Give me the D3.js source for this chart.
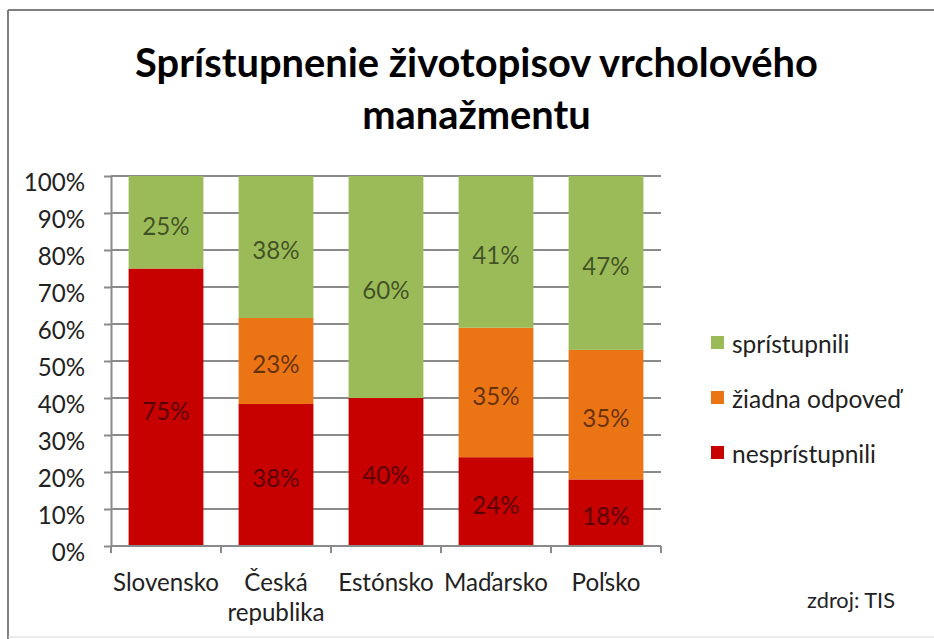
<!DOCTYPE html>
<html><head><meta charset="utf-8">
<script src="https://cdn.jsdelivr.net/npm/d3@7"></script>
<style>body{margin:0;background:#fff}svg{display:block}</style>
</head><body>
<svg id="chart" width="934" height="639"></svg>
<script>
// ---- data ----
const categories = ["Slovensko", "Česká republika", "Estónsko", "Maďarsko", "Poľsko"];
const categoryLabelLines = [["Slovensko"], ["Česká", "republika"], ["Estónsko"], ["Maďarsko"], ["Poľsko"]];
const seriesNames = ["nesprístupnili", "žiadna odpoveď", "sprístupnili"];
const nespristupnili = [75, 38, 40, 24, 18];
const ziadnaOdpoved = [0, 23, 0, 35, 35];
const spristupnili = [25, 38, 60, 41, 47];
const yTickValues = [0, 0.1, 0.2, 0.3, 0.4, 0.5, 0.6, 0.7, 0.8, 0.9, 1];
const titleLines = ["Sprístupnenie životopisov vrcholového", "manažmentu"];
const legendOrder = ["sprístupnili", "žiadna odpoveď", "nesprístupnili"];
const sourceNote = "zdroj: TIS";

// ---- style ----
const FONT = "Lato, 'Noto Sans', sans-serif";
const colors = {"nesprístupnili": "#C70000", "žiadna odpoveď": "#EB7415", "sprístupnili": "#9BBB59"};
const gridColor = "#8a8a8a";

const svg = d3.select("#chart");
svg.append("rect").attr("width", 934).attr("height", 639).attr("fill", "#fff");

// frame (top and left edges visible)
svg.append("line").attr("x1", 8).attr("x2", 934).attr("y1", 10).attr("y2", 10)
  .attr("stroke", "#7f7f7f").attr("stroke-width", 2);
svg.append("line").attr("x1", 8).attr("x2", 8).attr("y1", 10).attr("y2", 639)
  .attr("stroke", "#7f7f7f").attr("stroke-width", 2);
svg.append("line").attr("x1", 8).attr("x2", 934).attr("y1", 637).attr("y2", 637)
  .attr("stroke", "#d8d8d8").attr("stroke-width", 1);

// font fitting helper: size such that sample text has target width
function fitSize(sample, weight, target) {
  const t = svg.append("text").attr("font-family", FONT).attr("font-weight", weight)
    .attr("font-size", 100).text(sample);
  const w = t.node().getComputedTextLength();
  t.remove();
  return 100 * target / w;
}

const titleSize = fitSize(titleLines[0], "bold", 683);
const axisSize = fitSize("Slovensko", "normal", 106);
const legendSize = fitSize("nesprístupnili", "normal", 144);
const labelSize = axisSize;
const noteSize = fitSize(sourceNote, "normal", 88);

// ---- title ----
svg.append("g").selectAll("text").data(titleLines).join("text")
  .attr("x", 476.5).attr("y", (d, i) => 77 + i * 52)
  .attr("text-anchor", "middle").attr("font-family", FONT).attr("font-weight", "bold")
  .attr("font-size", titleSize).attr("fill", "#000").text(d => d);

// ---- scales ----
const x = d3.scaleBand().domain(categories).range([111, 661]).paddingInner(0.32).paddingOuter(0.16);
const y = d3.scaleLinear().domain([0, 1]).range([546, 176]);

// ---- stacked data ----
const rows = categories.map((c, i) => ({
  category: c,
  "nesprístupnili": nespristupnili[i],
  "žiadna odpoveď": ziadnaOdpoved[i],
  "sprístupnili": spristupnili[i]
}));
const stacked = d3.stack().keys(seriesNames).offset(d3.stackOffsetExpand)(rows);

// ---- gridlines ----
svg.append("g").selectAll("line").data(yTickValues.filter(v => v > 0)).join("line")
  .attr("x1", 111).attr("x2", 661).attr("y1", d => y(d)).attr("y2", d => y(d))
  .attr("stroke", gridColor).attr("stroke-width", 2);

// ---- bars ----
const layers = svg.append("g").selectAll("g").data(stacked).join("g")
  .attr("fill", d => colors[d.key]);
layers.selectAll("rect").data(d => d.map(p => ({p, key: d.key}))).join("rect")
  .attr("x", d => x(d.p.data.category))
  .attr("width", x.bandwidth())
  .attr("y", d => y(d.p[1]))
  .attr("height", d => y(d.p[0]) - y(d.p[1]));

// ---- data labels ----
const labelG = svg.append("g");
stacked.forEach(layer => {
  layer.forEach(p => {
    const v = p.data[layer.key];
    if (!v) return;
    labelG.append("text")
      .attr("x", x(p.data.category) + x.bandwidth() / 2)
      .attr("y", (y(p[0]) + y(p[1])) / 2 + 4)
      .attr("dy", "0.35em")
      .attr("text-anchor", "middle")
      .attr("font-family", FONT).attr("font-size", labelSize)
      .attr("fill", "#000").attr("fill-opacity", 0.58)
      .text(v + "%");
  });
});

// ---- y axis ----
const yAxis = svg.append("g").attr("transform", "translate(111,0)")
  .call(d3.axisLeft(y).tickValues(yTickValues).tickFormat(d3.format(".0%"))
    .tickSize(7).tickSizeOuter(0).tickPadding(19));
yAxis.select(".domain").attr("stroke", gridColor).attr("stroke-width", 2);
yAxis.selectAll(".tick line").attr("stroke", gridColor).attr("stroke-width", 2);
yAxis.selectAll(".tick text").attr("font-family", FONT).attr("font-size", axisSize)
  .attr("fill", "#222").attr("dy", "0.62em");

// ---- x axis (ticks at category boundaries) ----
const step = x.step();
const bounds = categories.map(c => x(c) - step * x.paddingInner() / 2)
  .concat([x(categories[categories.length - 1]) + x.bandwidth() + step * x.paddingInner() / 2]);
const xAxis = svg.append("g");
xAxis.append("line").attr("x1", x.range()[0]).attr("x2", x.range()[1])
  .attr("y1", y(0)).attr("y2", y(0)).attr("stroke", gridColor).attr("stroke-width", 2);
xAxis.selectAll("line.tk").data(bounds).join("line").attr("class", "tk")
  .attr("x1", d => d).attr("x2", d => d).attr("y1", y(0)).attr("y2", y(0) + 7)
  .attr("stroke", gridColor).attr("stroke-width", 2);
const xl = xAxis.selectAll("text").data(categories).join("text")
  .attr("x", d => x(d) + x.bandwidth() / 2).attr("y", 591)
  .attr("text-anchor", "middle").attr("font-family", FONT).attr("font-size", axisSize)
  .attr("fill", "#222");
xl.each(function(d, i) {
  d3.select(this).selectAll("tspan").data(categoryLabelLines[i]).join("tspan")
    .attr("x", x(d) + x.bandwidth() / 2).attr("dy", (t, j) => j === 0 ? 0 : 30).text(t => t);
});

// ---- legend ----
const lg = svg.append("g").selectAll("g").data(legendOrder).join("g")
  .attr("transform", (d, i) => `translate(711,${343 + i * 55})`);
lg.append("rect").attr("x", 0).attr("y", -7).attr("width", 13).attr("height", 13)
  .attr("fill", d => colors[d]);
lg.append("text").attr("x", 21).attr("y", 0).attr("dy", "0.42em")
  .attr("font-family", FONT).attr("font-size", legendSize).attr("fill", "#222").text(d => d);

// ---- source note ----
svg.append("text").attr("x", 895).attr("y", 608).attr("text-anchor", "end")
  .attr("font-family", FONT).attr("font-size", noteSize).attr("fill", "#222").text(sourceNote);
</script>
</body></html>
